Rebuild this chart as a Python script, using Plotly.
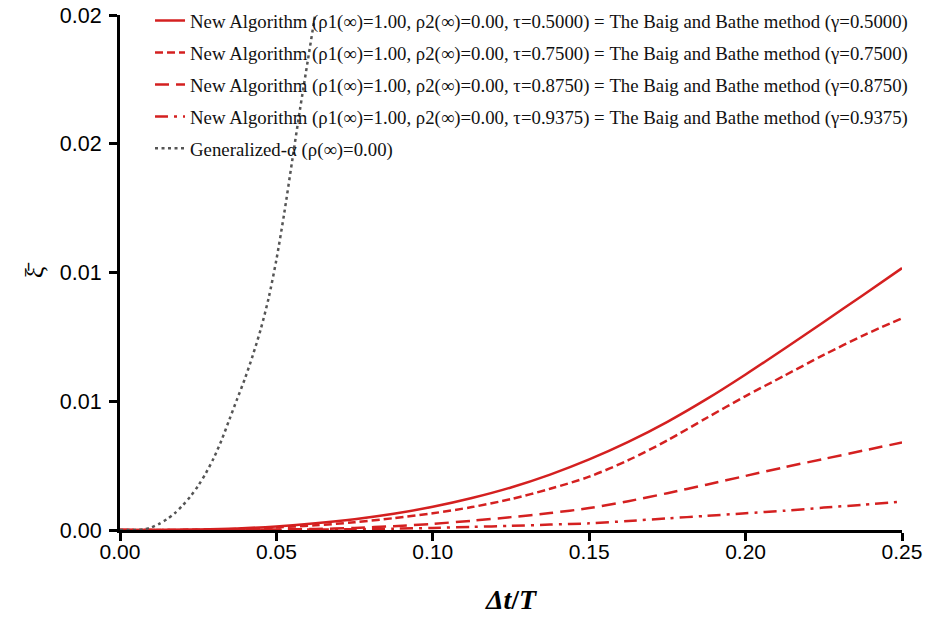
import plotly.graph_objects as go

# ---- data ----
x_new = [0.0, 0.0125, 0.025, 0.0375, 0.05, 0.0625, 0.075, 0.0875, 0.10, 0.1125, 0.125,
         0.1375, 0.15, 0.1625, 0.175, 0.1875, 0.20, 0.2125, 0.225, 0.2375, 0.25]
xi_tau_05000 = [0.0, 0.000003, 0.00002, 0.00006, 0.00014, 0.00026, 0.00042, 0.00063, 0.00090,
                0.00124, 0.00165, 0.00215, 0.00274, 0.00342, 0.00420, 0.00508, 0.00604,
                0.00705, 0.00808, 0.00912, 0.01017]
xi_tau_07500 = [0.0, 0.000001, 0.00001, 0.00004, 0.00010, 0.00018, 0.00030, 0.00046, 0.00065,
                0.00089, 0.00120, 0.00160, 0.00207, 0.00271, 0.00348, 0.00435, 0.00520,
                0.00600, 0.00680, 0.00755, 0.00822]
xi_tau_08750 = [0.0, 0.0, 0.000002, 0.000008, 0.00002, 0.00004, 0.00008, 0.00015, 0.00024,
                0.00036, 0.00050, 0.00066, 0.00085, 0.00112, 0.00143, 0.00176, 0.00210,
                0.00244, 0.00276, 0.00308, 0.00340]
xi_tau_09375 = [0.0, 0.0, 0.0, 0.000003, 0.00001, 0.00002, 0.00003, 0.00005, 0.00008,
                0.00012, 0.00016, 0.00021, 0.00026, 0.00035, 0.00045, 0.00055, 0.00065,
                0.00075, 0.00087, 0.00098, 0.00110]

x_ga = [0.0, 0.005, 0.0075, 0.01, 0.0125, 0.015, 0.0175, 0.02, 0.0225, 0.025, 0.0275, 0.03,
        0.0325, 0.035, 0.0375, 0.04, 0.0425, 0.045, 0.0475, 0.05, 0.0525, 0.055, 0.0575,
        0.06, 0.0625, 0.065]
xi_ga = [0.0, 0.0, 0.00002, 0.00010, 0.00024, 0.00042, 0.00065, 0.00095, 0.00130, 0.00172,
         0.00222, 0.00280, 0.00350, 0.00430, 0.00510, 0.00590, 0.00680, 0.00780, 0.00900,
         0.01050, 0.01230, 0.01430, 0.01630, 0.01820, 0.02010, 0.02200]

names = [
    "New Algorithm (ρ1(∞)=1.00, ρ2(∞)=0.00, τ=0.5000) = The Baig and Bathe method (γ=0.5000)",
    "New Algorithm (ρ1(∞)=1.00, ρ2(∞)=0.00, τ=0.7500) = The Baig and Bathe method (γ=0.7500)",
    "New Algorithm (ρ1(∞)=1.00, ρ2(∞)=0.00, τ=0.8750) = The Baig and Bathe method (γ=0.8750)",
    "New Algorithm (ρ1(∞)=1.00, ρ2(∞)=0.00, τ=0.9375) = The Baig and Bathe method (γ=0.9375)",
    "Generalized-α (ρ(∞)=0.00)",
]

x_tick_vals = [0.0, 0.05, 0.10, 0.15, 0.20, 0.25]
x_tick_text = ["0.00", "0.05", "0.10", "0.15", "0.20", "0.25"]
y_tick_vals = [0.0, 0.005, 0.01, 0.015, 0.02]
y_tick_text = ["0.00", "0.01", "0.01", "0.02", "0.02"]

RED = "#D42020"
GREY = "#555555"

fig = go.Figure()
series = [
    (x_new, xi_tau_05000, RED, "solid", 2.5),
    (x_new, xi_tau_07500, RED, "8px,4px", 2.5),
    (x_new, xi_tau_08750, RED, "14px,7px", 2.5),
    (x_new, xi_tau_09375, RED, "13px,6px,3px,6px", 2.5),
    (x_ga, xi_ga, GREY, "3px,3.5px", 2.5),
]
for i, (xs, ys, col, dash, w) in enumerate(series):
    fig.add_trace(go.Scatter(
        x=xs, y=ys, mode="lines", name=names[i], legendgroup=f"g{i}",
        line=dict(color=col, dash=dash, width=w, shape="spline", smoothing=0.8),
    ))

fig.update_layout(
    width=926, height=618, autosize=False,
    margin=dict(l=120, r=24, t=15, b=88, autoexpand=False),
    paper_bgcolor="white", plot_bgcolor="white",
    showlegend=True,
    legend=dict(
        x=0.0384, y=1.0255, xanchor="left", yanchor="top",
        bgcolor="rgba(0,0,0,0)", borderwidth=0,
        font=dict(family="Liberation Serif", size=18.8, color="#111"),
        itemwidth=30, tracegroupgap=4.5,
    ),
    xaxis=dict(
        range=[0, 0.25], tickvals=x_tick_vals, ticktext=x_tick_text,
        showgrid=False, zeroline=False, automargin=False,
        showline=True, linecolor="black", linewidth=3,
        ticks="outside", ticklen=8, tickwidth=3, tickcolor="black",
        ticklabeloverflow="allow", ticklabelstandoff=-7,
        tickfont=dict(family="Liberation Sans", size=21, color="black"),
        title=dict(text="<b><i>Δt</i>/<i>T</i></b>", standoff=28,
                   font=dict(family="Liberation Serif", size=28, color="black")),
    ),
    yaxis=dict(
        range=[0, 0.02], tickvals=y_tick_vals, ticktext=y_tick_text,
        showgrid=False, zeroline=False, automargin=False,
        showline=True, linecolor="black", linewidth=3,
        ticks="outside", ticklen=8, tickwidth=3, tickcolor="black",
        ticklabeloverflow="allow", ticklabelstandoff=3,
        tickfont=dict(family="Liberation Sans", size=21.5, color="black"),
        title=dict(text="ξ\u0304", standoff=9,
                   font=dict(family="Liberation Serif", size=26, color="black")),
    ),
)

# remove the default 8px page margin so the 926x618 figure fills the window exactly
fig.write_html("out.html", config={"displayModeBar": False},
               post_script="document.body.style.margin='0px';")
